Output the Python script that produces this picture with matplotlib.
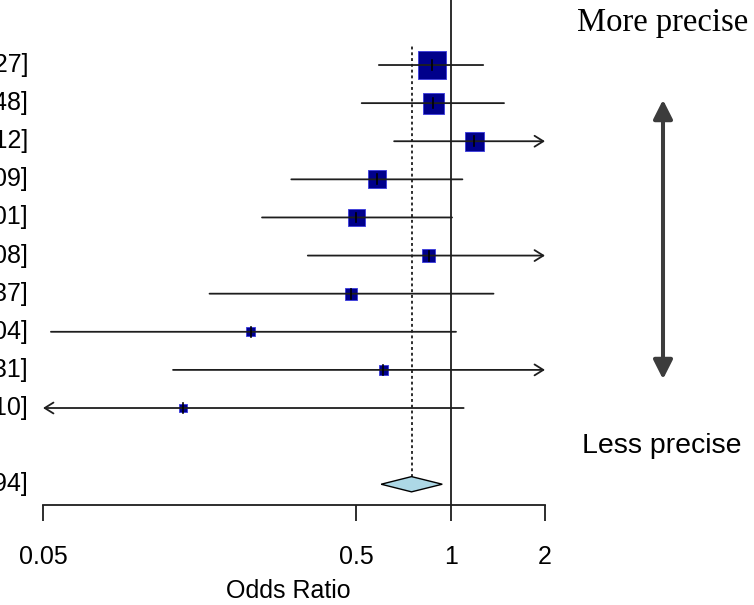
import numpy as np
import matplotlib
matplotlib.use("Agg")
import matplotlib.pyplot as plt
from matplotlib.patches import Polygon, FancyArrowPatch
from matplotlib.transforms import blended_transform_factory

# Study odds ratios with 95% confidence limits (top row first)
estimates = [0.87, 0.88, 1.19, 0.58, 0.50, 0.85, 0.48, 0.23, 0.61, 0.14]
ci_lower = [0.59, 0.52, 0.66, 0.31, 0.25, 0.35, 0.17, 0.053, 0.13, 0.02]
ci_upper = [1.27, 1.48, 2.12, 1.09, 1.01, 2.08, 1.37, 1.04, 2.31, 1.10]

# Pooled (random-effects) estimate
pooled_est = 0.75
pooled_lower = 0.60
pooled_upper = 0.94

tick_values = [0.05, 0.5, 1, 2]
tick_labels = ["0.05", "0.5", "1", "2"]

SANS = "Liberation Sans"
SERIF = "Liberation Serif"
INK = "#1e1e1e"

W, H, DPI = 754, 605, 100
fig = plt.figure(figsize=(W / DPI, H / DPI), dpi=DPI)
fig.patch.set_facecolor("white")

# axes: x from 0.05 to 2 on a log scale, rows 10..1 then the pooled row at -1
ax = fig.add_axes([43 / W, 100 / H, (545 - 43) / W, 505 / H])
ax.set_xscale("log")
xmin, xmax = tick_values[0], tick_values[-1]
ax.set_xlim(xmin, xmax)
ax.set_ylim(-1.545, 11.706)
for side in ("left", "right", "top"):
    ax.spines[side].set_visible(False)
ax.spines["bottom"].set_linewidth(1.3)
ax.spines["bottom"].set_color(INK)
ax.set_yticks([])
ax.set_xticks(tick_values)
ax.set_xticklabels(tick_labels, fontfamily=SANS, fontsize=18)
ax.xaxis.set_minor_locator(matplotlib.ticker.NullLocator())
ax.tick_params(axis="x", direction="out", length=11.5, width=1.3, color=INK, pad=17)
ax.patch.set_alpha(0)

k = len(estimates)
rows = np.arange(k, 0, -1)
pooled_row = -1

# reference line at OR = 1
ax.axvline(1, color=INK, lw=1.3, zorder=1)
# dotted line at the pooled estimate
ax.plot([pooled_est, pooled_est], [pooled_row + 0.2, 10.52], color=INK, lw=1.3,
        ls=(0, (1.6, 1.6)), zorder=1)

# squares sized by precision (1 / standard error)
se = (np.log(ci_upper) - np.log(ci_lower)) / (2 * 1.96)
side_px = 2.5 + 4.95 / se
sizes = (side_px * 72 / DPI) ** 2
ax.scatter(estimates, rows, s=sizes, marker="s", facecolor="#00008B",
           edgecolor="#3a3adf", linewidth=0.6, zorder=2)

# confidence intervals, with arrows where they run past the axis limits
for y, lb, ub in zip(rows, ci_lower, ci_upper):
    lo = max(lb, xmin)
    hi = min(ub, xmax)
    left_cut = lb < xmin
    right_cut = ub > xmax
    if left_cut and right_cut:
        style = "<->"
    elif right_cut:
        style = "->"
    elif left_cut:
        style = "<-"
    else:
        style = "-"
    if style != "-":
        style += ",head_length=0.45,head_width=0.28"
    ax.annotate("", xy=(hi, y), xytext=(lo, y),
                arrowprops=dict(arrowstyle=style, color=INK, lw=1.3,
                                shrinkA=0, shrinkB=0, mutation_scale=14),
                zorder=3)

for y, est in zip(rows, estimates):
    ax.plot([est, est], [y - 0.13, y + 0.13], color="black", lw=1.2, zorder=4)

# pooled diamond
diamond = Polygon([(pooled_lower, pooled_row), (pooled_est, pooled_row + 0.2),
                   (pooled_upper, pooled_row), (pooled_est, pooled_row - 0.2)],
                  closed=True, facecolor="#ADD8E6", edgecolor="black", lw=1.0,
                  zorder=3)
ax.add_patch(diamond)

# estimate and CI text to the left of the plot
tr = blended_transform_factory(fig.transFigure, ax.transData)
for y, est, lb, ub in zip(rows, estimates, ci_lower, ci_upper):
    ax.text(28 / W, y, f"{est:.2f} [{lb:.2f}, {ub:.2f}]", transform=tr,
            ha="right", va="center", fontfamily=SANS, fontsize=18,
            color="black", clip_on=False)
ax.text(28 / W, pooled_row,
        f"{pooled_est:.2f} [{pooled_lower:.2f}, {pooled_upper:.2f}]",
        transform=tr, ha="right", va="center", fontfamily=SANS, fontsize=18,
        color="black", clip_on=False)

# axis title
fig.text(288 / W, 1 - 591 / H, "Odds Ratio",
         ha="center", va="center", fontfamily=SANS, fontsize=18, color="black")

# precision guide on the right
fig.text(663 / W, 1 - 23 / H, "More precise", ha="center", va="center",
         fontfamily=SERIF, fontsize=23.5, color="black")
fig.text(662 / W, 1 - 446 / H, "Less precise", ha="center", va="center",
         fontfamily=SANS, fontsize=20.5, color="black")
guide = FancyArrowPatch((663 / W, 1 - 97 / H), (663 / W, 1 - 382 / H),
                        transform=fig.transFigure,
                        arrowstyle="<|-|>,head_length=1.15,head_width=0.58",
                        mutation_scale=10, color="#3c3c3c", lw=2.9)
fig.patches.append(guide)

fig.savefig("out.png", dpi=DPI)
